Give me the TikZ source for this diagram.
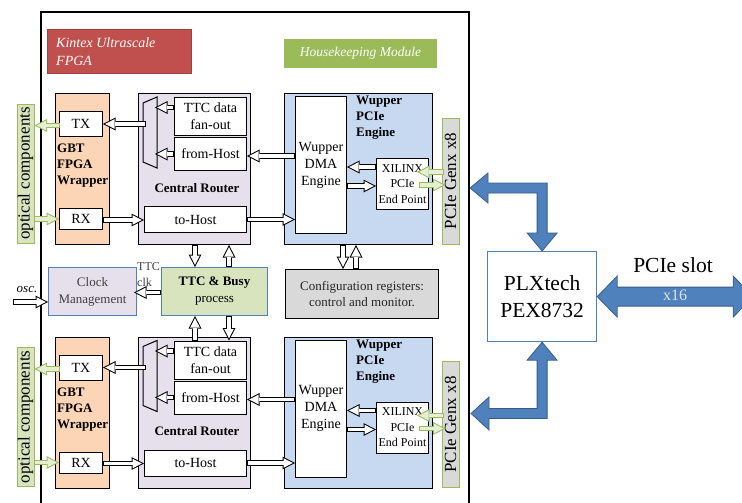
\documentclass[tikz,border=0pt]{standalone}
\usepackage{fontspec}
\setmainfont{Liberation Serif}
\usetikzlibrary{arrows.meta,calc}
\definecolor{kred}{HTML}{C0504D}
\definecolor{kredd}{HTML}{A23F3C}
\definecolor{hkg}{HTML}{9BBB59}
\definecolor{gbtf}{HTML}{FBD5B5}
\definecolor{lav}{HTML}{E5E0EC}
\definecolor{wub}{HTML}{C6D9F1}
\definecolor{optf}{HTML}{D7E4BD}
\definecolor{grayf}{HTML}{D9D9D9}
\definecolor{bord}{HTML}{4F81BD}
\definecolor{bordd}{HTML}{385D8A}
\definecolor{lgreen}{HTML}{E6EED5}
\definecolor{textgray}{HTML}{404040}
\definecolor{xlab}{HTML}{DCE6F2}

% hollow block arrow: #1 outline colour, #2 inner colour, #3 from, #4 to
\newcommand\harrow[4]{%
  \draw[line width=5.5pt,draw=#1,-{Triangle[length=12.5pt,width=13pt,line width=0pt,fill=#1]}] #3 -- #4;
  \draw[line width=3.6pt,draw=#2,shorten <=0.9pt,shorten >=2.2pt,-{Triangle[length=9.3pt,width=9.6pt,line width=0pt,fill=#2]}] #3 -- #4;}

% one row of the FPGA: #1 suffix, #2 vertical offset
\newcommand\fpgarow[2]{%
\begin{scope}[yshift=-#2pt]
  \node[optbox, rotate=90, minimum width=139pt, minimum height=17pt] (opt#1) at (25.5,173.5) {optical components};
  \node[box, fill=gbtf, minimum width=54pt, minimum height=151pt] (gbt#1) at (55,93) {};
  \node[b13, align=left, anchor=west, inner sep=0pt] (gbtl#1) at (57,166) {GBT\\FPGA\\Wrapper};
  \node[box, fill=white, minimum width=43pt, minimum height=25pt, t14] (tx#1) at (59,111) {TX};
  \node[box, fill=white, minimum width=43pt, minimum height=21pt, t14] (rx#1) at (59,208) {RX};
  \node[box, fill=lav, minimum width=112pt, minimum height=151pt] (cr#1) at (138,93) {};
  \node[b13] (crl#1) at (197,188) {Central Router};
  \draw[line width=1pt] (143,103) -- (157,97) -- (157,168) -- (143,162) -- cycle;
  \coordinate (muxl#1) at (143,132.5);
  \coordinate (muxr#1) at (157,132.5);
  \node[box, fill=white, minimum width=72pt, minimum height=38pt, align=center, t14] (fan#1) at (174,97) {TTC data\\fan-out};
  \node[box, fill=white, minimum width=72pt, minimum height=33pt, t14] (fh#1) at (174,137) {from-Host};
  \node[box, fill=white, minimum width=102pt, minimum height=26pt, t14] (th#1) at (144,206) {to-Host};
  \node[box, fill=wub, minimum width=148pt, minimum height=151pt] (wu#1) at (284,93) {};
  \node[b13, align=left, anchor=west, inner sep=0pt] (wul#1) at (356,118) {Wupper\\PCIe\\Engine};
  \node[box, fill=white, minimum width=51pt, minimum height=137pt, align=center, t14] (dma#1) at (295,96) {Wupper\\DMA\\Engine};
  \node[box, fill=white, minimum width=52pt, minimum height=51pt, align=center, t12] (xil#1) at (376,158) {XILINX\\PCIe\\End Point};
  \node[pciebox, rotate=90, minimum width=126pt, minimum height=17pt] (pcie#1) at (450.5,181) {PCIe Genx x8};
  % arrows
  \harrow{black}{white}{($(tx#1.east -| muxl#1)+(3,0)$)}{(tx#1.east)}
  \harrow{black}{white}{($(fan#1.west)+(0,-9)$)}{($(fan#1.west -| muxr#1)+(-2,-9)$)}
  \harrow{black}{white}{(fh#1.west)}{($(fh#1.west -| muxr#1)+(-2,0)$)}
  \harrow{black}{white}{($(rx#1.east)+(0,1)$)}{($(rx#1.east -| th#1.west)+(0,1)$)}
  \harrow{black}{white}{($(fh#1.east -| dma#1.west)+(0,2)$)}{($(fh#1.east)+(0,2)$)}
  \harrow{black}{white}{(th#1.east)}{(th#1.east -| dma#1.west)}
  \harrow{black}{white}{($(xil#1.west)+(0,-17)$)}{($(xil#1.west -| dma#1.east)+(0,-17)$)}
  \harrow{black}{white}{($(xil#1.west -| dma#1.east)+(0,2)$)}{($(xil#1.west)+(0,2)$)}
  \harrow{hkg}{lgreen}{($(pcie#1.north)+(2,-9)$)}{($(xil#1.east |- pcie#1.north)+(-12,-9)$)}
  \harrow{hkg}{lgreen}{($(xil#1.east |- pcie#1.north)+(-10,4)$)}{($(pcie#1.north)+(4,4)$)}
  \harrow{hkg}{lgreen}{($(tx#1.west)+(1,1.5)$)}{($(tx#1.west -| opt#1.south)+(0,1.5)$)}
  \harrow{hkg}{lgreen}{(rx#1.west -| opt#1.south)}{(rx#1.west)}
\end{scope}}

\begin{document}
\begin{tikzpicture}[x=1pt,y=-1pt,
  box/.style={draw, line width=1pt, inner sep=0pt, anchor=north west},
  t14/.style={font=\fontsize{14}{17}\selectfont},
  t13/.style={font=\fontsize{13}{17}\selectfont},
  b13/.style={font=\fontsize{13}{16}\selectfont\bfseries},
  t12/.style={font=\fontsize{12}{15.5}\selectfont},
  optbox/.style={draw=hkg, line width=1pt, fill=optf, inner sep=0pt, font=\fontsize{17}{20}\selectfont},
  pciebox/.style={draw=hkg, line width=1pt, fill=grayf, inner sep=0pt, font=\fontsize{17}{20}\selectfont},
  fat/.style={fill=bord, draw=bordd, line width=0.8pt, line join=miter}]
\useasboundingbox (0,0) rectangle (742,503);

% FPGA frame
\draw[line width=2pt] (41,503) -- (41,12) -- (469,12) -- (469,503);

\node[box, fill=kred, draw=kredd, minimum width=144pt, minimum height=44pt] (kin) at (47,29) {};
\node[anchor=west, align=left, text=white, inner sep=0pt, font=\fontsize{14}{18}\selectfont\itshape] (kinl) at (56,52) {Kintex Ultrascale\\FPGA};
\node[box, fill=hkg, draw=hkg, minimum width=152pt, minimum height=28pt, text=white, font=\fontsize{13.5}{16}\selectfont\itshape] (hk) at (284,39) {Housekeeping Module};

\fpgarow{1}{0}
\fpgarow{2}{243.5}

% middle row
\node[box, fill=lav, draw=bord, minimum width=88pt, minimum height=48pt, align=center, text=textgray, t13] (clk) at (48,267) {Clock\\Management};
\node[box, fill=optf, draw=bord, minimum width=106pt, minimum height=48pt, align=center, t13] (ttc) at (161,267) {\textbf{TTC \& Busy}\\process};
\node[box, fill=grayf, minimum width=153pt, minimum height=49pt, align=center, text=black!85, font=\fontsize{13}{15.5}\selectfont] (cfg) at (285,269) {Configuration registers:\\control and monitor.};
\node[anchor=west, align=left, inner sep=0pt, text=textgray, font=\fontsize{12}{16}\selectfont] (ttcclk) at (137,275) {TTC\\clk};
\node[inner sep=0pt, font=\fontsize{13}{15}\selectfont\itshape] (oscl) at (27,290) {osc.};
\coordinate (oscin) at (13,302);

\harrow{black}{white}{($(cr1.south west)+(57,0)$)}{($(ttc.north west)+(34,0)$)}
\harrow{black}{white}{($(ttc.north west)+(68,0)$)}{($(cr1.south west)+(91,0)$)}
\harrow{black}{white}{($(fan2.north west)+(21,0)$)}{($(ttc.south west)+(34,0)$)}
\harrow{black}{white}{($(ttc.south west)+(68,0)$)}{($(fan2.north west)+(55,0)$)}
\harrow{black}{white}{($(wu1.south west)+(59,0)$)}{($(cfg.north west)+(58,0)$)}
\harrow{black}{white}{($(cfg.north west)+(71,0)$)}{($(wu1.south west)+(72,0)$)}
\harrow{black}{white}{($(ttc.west)+(0,1)$)}{($(clk.east)+(-3,1)$)}
\harrow{black}{white}{(oscin)}{(oscin -| clk.west)}

% PLX switch
\node[box, fill=white, draw=bord, line width=1.2pt, minimum width=109pt, minimum height=90pt, align=center, font=\fontsize{21.5}{27}\selectfont] (plx) at (487,251) {PLXtech\\PEX8732};
\coordinate (tipA) at (470,188);
\coordinate (tipB) at (471,413.5);

\filldraw[fat] (tipA) -- ++(18,-15) -- ++(0,10) -| ($(plx.north)+(5,-18)$) -- ++(10,0) -- (plx.north) -- ++(-15,-18) -- ++(10,0) |- ($(tipA)+(18,5)$) -- ++(0,10) -- cycle;
\filldraw[fat] (tipB) -- ++(18,-16.5) -- ++(0,11.5) -| ($(plx.south)+(-5,18)$) -- ++(-10,0) -- (plx.south) -- ++(15,18) -- ++(-10,0) |- ($(tipB)+(18,5)$) -- ++(0,11.5) -- cycle;
\filldraw[fat] (plx.east) -- ++(20,-20.5) -- ++(0,11) -- ++(116,0) -- ++(0,-11) -- ++(20,20.5) -- ++(-20,20.5) -- ++(0,-11) -- ++(-116,0) -- ++(0,11) -- cycle;
\node[text=xlab, inner sep=0pt, font=\fontsize{16}{18}\selectfont] (x16) at (675,295) {x16};
\node[inner sep=0pt, font=\fontsize{21.5}{24}\selectfont] (slot) at (673,265) {PCIe slot};
\end{tikzpicture}
\end{document}
